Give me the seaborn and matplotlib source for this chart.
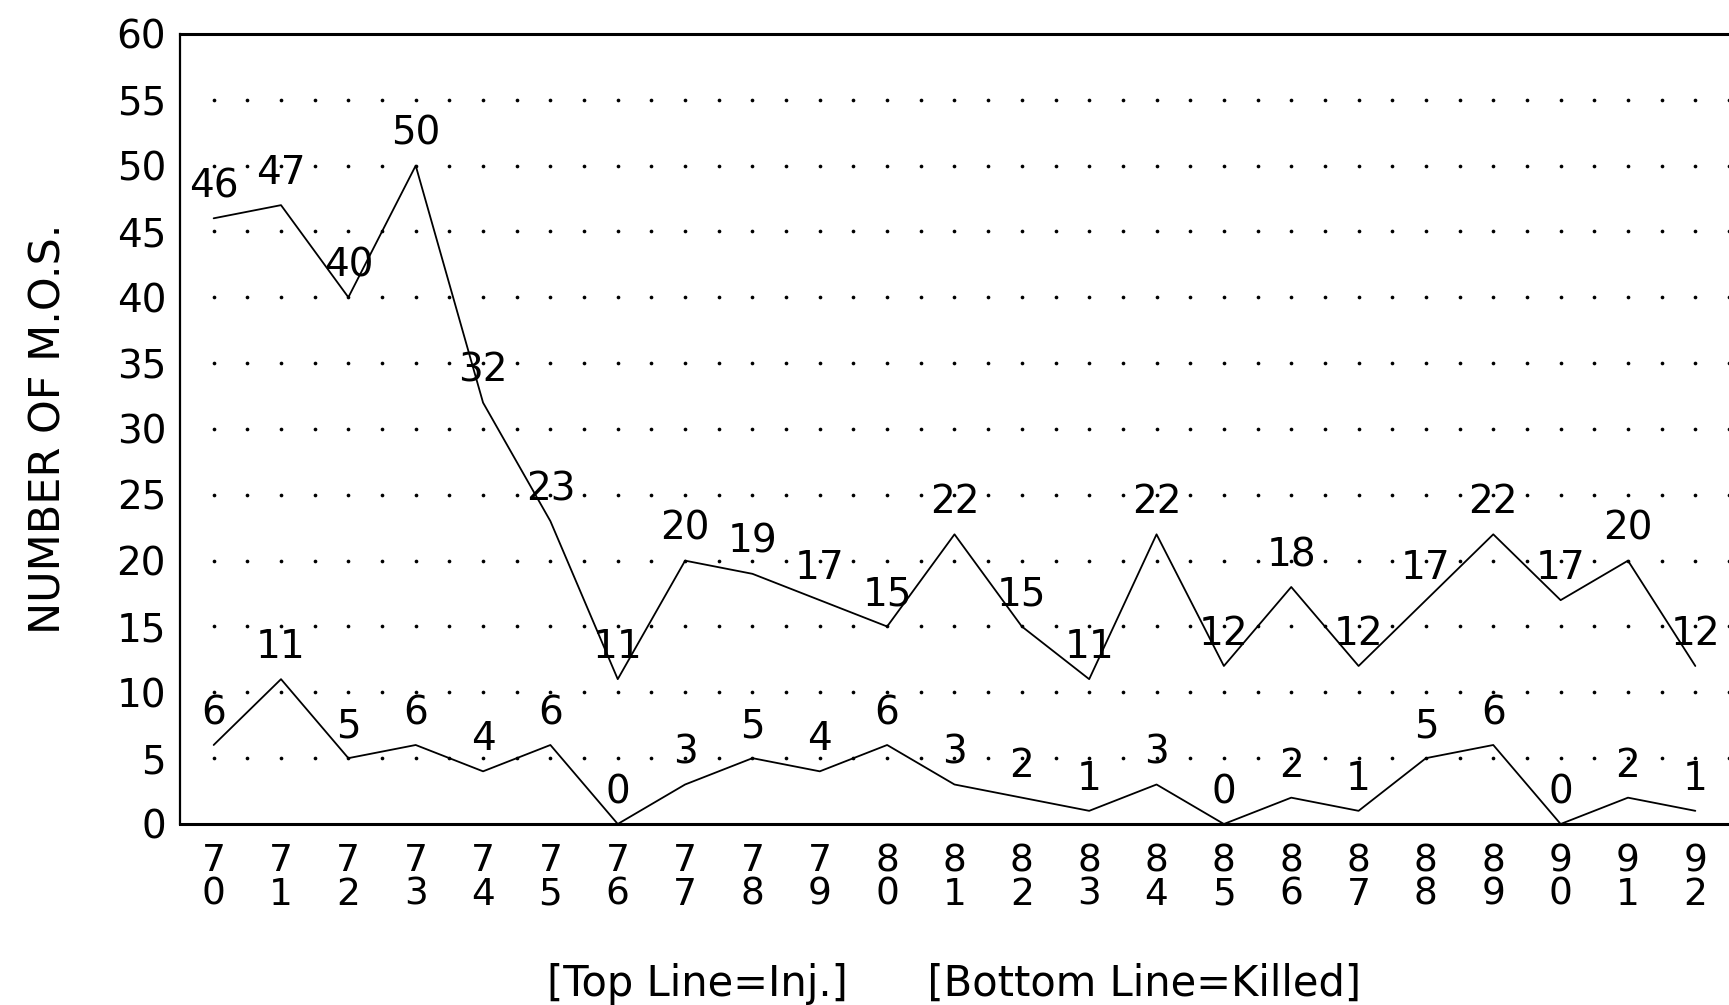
import numpy as np
import pandas as pd
import seaborn as sns
import matplotlib.pyplot as plt

# data
years = ["70", "71", "72", "73", "74", "75", "76", "77", "78", "79", "80", "81",
         "82", "83", "84", "85", "86", "87", "88", "89", "90", "91", "92"]
injured = [46, 47, 40, 50, 32, 23, 11, 20, 19, 17, 15, 22,
           15, 11, 22, 12, 18, 12, 17, 22, 17, 20, 12]
killed = [6, 11, 5, 6, 4, 6, 0, 3, 5, 4, 6, 3,
          2, 1, 3, 0, 2, 1, 5, 6, 0, 2, 1]
y_ticks = list(range(0, 65, 5))

sns.set_style("white")
plt.rcParams["font.family"] = ["DejaVu Sans"]
plt.rcParams["text.color"] = "black"
plt.rcParams["xtick.color"] = "black"
plt.rcParams["ytick.color"] = "black"
plt.rcParams["axes.labelcolor"] = "black"

df = pd.DataFrame({"pos": np.arange(len(years)), "Inj": injured, "Killed": killed})

fig = plt.figure(figsize=(17.29, 10.05), dpi=100)
ax = fig.add_axes([0.1041, 0.1801, 0.8959, 0.7861])

# dotted grid (dots at every half category)
gx = np.arange(0, len(years) - 0.5 + 0.01, 0.5)
for gy in y_ticks[1:-1]:
    ax.scatter(gx, np.full_like(gx, gy), s=7, color="black", linewidths=0, zorder=1)

sns.lineplot(data=df, x="pos", y="Inj", color="black", lw=1.3, ax=ax, zorder=3)
sns.lineplot(data=df, x="pos", y="Killed", color="black", lw=1.3, ax=ax, zorder=3)

for col in ["Inj", "Killed"]:
    for x, v in zip(df["pos"], df[col]):
        ax.annotate(str(v), (x, v), xytext=(0, 23), textcoords="offset points",
                    ha="center", va="center", fontsize=28, zorder=4,
                    annotation_clip=False)

ax.set_xlim(-0.5, len(years) - 0.5)
ax.set_ylim(0, 60)

# major ticks at category boundaries, labels at centres
ax.set_xticks(np.arange(-0.5, len(years) - 0.5, 1.0))
ax.set_xticklabels([])
ax.set_xticks(np.arange(len(years)), minor=True)
ax.set_xticklabels([f"{y[0]}\n{y[1]}" for y in years], minor=True,
                   fontsize=27, linespacing=0.9)
ax.tick_params(axis="x", which="major", direction="out", length=10, width=1.6)
ax.tick_params(axis="x", which="minor", length=0, pad=14)

ax.set_yticks(y_ticks)
ax.set_yticklabels([str(t) for t in y_ticks], fontsize=28)
ax.tick_params(axis="y", direction="out", length=7, width=1.6, pad=3)

ax.set_xlabel("[Top Line=Inj.]      [Bottom Line=Killed]", fontsize=30, labelpad=36)
ax.set_ylabel("NUMBER OF M.O.S.", fontsize=31, labelpad=34)

for side in ["top", "bottom", "left"]:
    ax.spines[side].set_visible(True)
    ax.spines[side].set_color("black")
ax.spines["top"].set_linewidth(2.2)
ax.spines["bottom"].set_linewidth(2.2)
ax.spines["left"].set_linewidth(1.6)
ax.spines["right"].set_visible(False)

fig.savefig("out.png", dpi=100, facecolor="white")
